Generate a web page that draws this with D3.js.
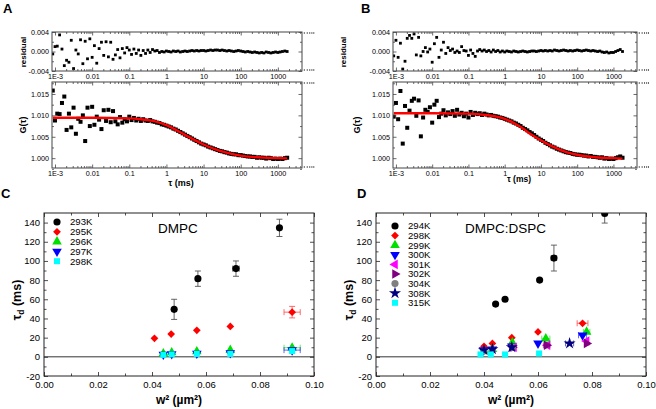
<!DOCTYPE html>
<html><head><meta charset="utf-8">
<script src="https://cdn.jsdelivr.net/npm/d3@7"></script>
<style>
body{margin:0;background:#fff;}
svg{display:block;font-family:"Liberation Sans",Arial,sans-serif;}
</style></head><body>
<svg id="c" width="656" height="409"></svg>
<script>
// ---------- FCS lag times (ms) shared by panels A and B ----------
const tauLag = [
 0.00087,
 0.00100,0.00115,0.00133,0.00154,0.00178,0.00205,0.00237,0.00274,0.00316,0.00365,0.00422,0.00487,0.00562,0.00649,0.00750,0.00866,
 0.0100,0.0115,0.0133,0.0154,0.0178,0.0205,0.0237,0.0274,0.0316,0.0365,0.0422,0.0487,0.0562,0.0649,0.0750,0.0866,
 0.100,0.115,0.133,0.154,0.178,0.205,0.237,0.274,0.316,0.365,0.422,0.487,0.562,0.649,0.750,0.866,
 1.00,1.15,1.33,1.54,1.78,2.05,2.37,2.74,3.16,3.65,4.22,4.87,5.62,6.49,7.50,8.66,
 10.0,11.5,13.3,15.4,17.8,20.5,23.7,27.4,31.6,36.5,42.2,48.7,56.2,64.9,75.0,86.6,
 100,115,133,154,178,205,237,274,316,365,422,487,562,649,750,866,
 1000,1150,1330,1540,1780
];
const gA = [
 1.0158,
 1.0088,1.0104,1.0103,1.0129,1.0144,1.0066,1.0104,1.0072,1.0118,1.0057,1.0092,1.0085,1.0100,1.0040,1.0118,1.0075,
 1.0120,1.0078,1.0097,1.0090,1.0068,1.0112,1.0087,1.0113,1.0084,1.0110,1.0086,1.0079,1.0096,1.0083,1.0091,1.0086,
 1.0097,1.0089,1.0094,1.0088,1.0092,1.0087,1.0091,1.0088,1.0087,1.0089,1.0086,1.0085,1.0083,1.0082,1.0079,1.0078,
 1.0076,1.0074,1.0072,1.0069,1.0067,1.0064,1.0061,1.0058,1.0055,1.0052,1.0049,1.0046,1.0043,1.0040,1.0037,1.0034,
 1.0032,1.0030,1.0027,1.0025,1.0023,1.0021,1.0019,1.0017,1.0016,1.0014,1.0013,1.0011,1.0010,1.0009,1.0009,1.0007,
 1.0007,1.0006,1.0005,1.0004,1.0004,1.0003,1.0003,1.0001,1.0002,1.0001,1.0001,0.9999,1.0001,1.0000,0.9998,0.9999,
 0.9998,0.9999,0.9998,1.0000,1.0001
];
const resA = [
 -0.0005,
 0.0010,0.0011,0.0034,0.0005,-0.0029,-0.0018,-0.0022,0.0023,-0.0035,0.0003,-0.0005,0.0024,-0.0025,0.0021,-0.0015,0.0026,
 -0.0012,0.0012,-0.0024,0.0006,0.0019,-0.0008,0.0020,-0.0011,0.0019,-0.0016,-0.0007,0.0004,-0.0013,0.0006,-0.0003,0.0008,
 0.0003,-0.0006,0.0005,-0.0004,0.0003,-0.0008,0.0002,-0.0004,0.0003,-0.0002,0.0004,0.0001,0.0002,-0.0002,0.0000,-0.0001,
 0.0001,0.0000,-0.0001,0.0001,0.0000,0.0001,-0.0001,0.0000,0.0001,0.0000,0.0001,0.0002,0.0001,0.0002,0.0001,0.0002,
 0.0002,0.0001,0.0002,0.0003,0.0002,0.0003,0.0003,0.0002,0.0003,0.0002,0.0001,0.0002,0.0001,0.0000,0.0001,0.0002,
 0.0001,0.0000,-0.0001,0.0000,-0.0001,-0.0002,-0.0001,-0.0002,-0.0003,-0.0002,-0.0003,-0.0001,-0.0002,-0.0003,-0.0002,-0.0001,
 -0.0002,-0.0001,0.0000,0.0001,0.0000
];
const gB = [
 1.0097,
 1.0129,1.0091,1.0157,1.0034,1.0122,1.0071,1.0111,1.0134,1.0139,1.0099,1.0135,1.0051,1.0095,1.0113,1.0108,1.0119,
 1.0083,1.0125,1.0134,1.0096,1.0104,1.0112,1.0100,1.0107,1.0103,1.0110,1.0099,1.0113,1.0102,1.0106,1.0098,1.0104,
 1.0095,1.0108,1.0101,1.0106,1.0103,1.0105,1.0101,1.0104,1.0102,1.0100,1.0101,1.0099,1.0098,1.0097,1.0095,1.0094,
 1.0092,1.0090,1.0088,1.0086,1.0083,1.0081,1.0078,1.0075,1.0071,1.0068,1.0065,1.0061,1.0058,1.0054,1.0050,1.0046,
 1.0043,1.0040,1.0036,1.0033,1.0030,1.0027,1.0025,1.0022,1.0020,1.0018,1.0016,1.0014,1.0013,1.0012,1.0010,1.0009,
 1.0008,1.0008,1.0007,1.0006,1.0006,1.0004,1.0005,1.0003,1.0003,1.0002,1.0001,1.0002,0.9999,1.0000,0.9998,0.9999,
 0.9998,1.0000,1.0002,1.0004,1.0001
];
const resB = [
 -0.0009,
 0.0023,-0.0012,0.0017,-0.0036,-0.0020,0.0027,0.0033,0.0027,0.0036,-0.0007,0.0029,-0.0009,0.0000,0.0008,-0.0001,0.0005,
 -0.0022,0.0016,0.0029,-0.0012,0.0003,0.0019,-0.0004,0.0008,0.0002,0.0005,-0.0002,0.0001,-0.0002,0.0010,0.0002,0.0001,
 -0.0008,0.0003,-0.0004,-0.0010,0.0001,0.0004,0.0001,0.0003,0.0000,0.0002,-0.0001,0.0003,0.0000,0.0002,-0.0001,0.0001,
 -0.0001,0.0001,0.0000,-0.0001,0.0001,0.0000,-0.0001,0.0000,0.0001,0.0000,-0.0001,0.0000,0.0001,0.0001,0.0000,0.0001,
 0.0002,0.0001,0.0002,0.0001,0.0002,0.0001,0.0003,0.0002,0.0001,0.0002,0.0003,0.0002,0.0001,0.0002,0.0001,0.0002,
 0.0003,0.0002,0.0001,0.0002,0.0003,0.0002,0.0001,0.0002,0.0001,0.0000,0.0001,-0.0001,-0.0002,-0.0001,-0.0003,-0.0002,
 -0.0002,0.0000,0.0002,0.0004,0.0000
];
// fitted curves (read at selected lag times)
const fitTauA = [0.00087,0.01,0.1,0.2,0.5,1,2,5,10,20,50,100,200,500,1000,1780];
const fitGA   = [1.00945,1.00945,1.0093,1.0091,1.0086,1.0077,1.0064,1.0045,1.0032,1.0021,1.0011,1.0006,1.0003,1.0001,1.0000,0.99995];
const fitTauB = [0.00087,0.01,0.1,0.3,1,2,3,5,10,20,50,100,200,500,1000,1780];
const fitGB   = [1.0105,1.0105,1.0104,1.0101,1.0092,1.0080,1.0071,1.0057,1.0042,1.0028,1.0014,1.0008,1.0004,1.0001,1.0000,0.9999];

const tauTicks = [0.001,0.01,0.1,1,10,100,1000];
const tauTickLabels = ["1E-3","0.01","0.1","1","10","100","1000"];
const gTicks = [1.000,1.005,1.010,1.015];
const gTickLabels = ["1.000","1.005","1.010","1.015"];
const resTicks = [-0.004,0,0.004];
const resTickLabels = ["-0.004","0.000","0.004"];

// ---------- panels C and D: [w^2 (µm^2), tau_d (ms), err w^2, err tau_d] ----------
const tempsC = ["293K","295K","296K","297K","298K"];
const c293K = [[0.0482,49.5,0,10.5],[0.0570,81.5,0,8],[0.0711,92,0.0012,8],[0.0872,134.5,0,9]];
const c295K = [[0.0409,19.3,0,0],[0.0471,23.8,0,0],[0.0566,27.6,0,0],[0.0690,31.7,0,0],[0.0919,46.6,0.003,6]];
const c296K = [[0.0442,3.5,0,0],[0.0473,4.5,0,0],[0.0566,5.5,0,0],[0.0690,7,0,0],[0.0919,9.5,0.003,0]];
const c297K = [[0.0442,2.5,0,0],[0.0473,3,0,0],[0.0566,3.5,0,0],[0.0690,4,0,0],[0.0919,7,0.003,0]];
const c298K = [[0.0442,2,0,0],[0.0473,2.5,0,0],[0.0566,3,0,0],[0.0690,3,0,0],[0.0919,6,0,0]];

const tempsD = ["294K","298K","299K","300K","301K","302K","304K","308K","315K"];
const d294K = [[0.0443,55,0,0],[0.0478,60,0,0],[0.0606,80,0,0],[0.0659,103,0.001,13.5],[0.0847,149.5,0,10]];
const d298K = [[0.0400,11,0,0],[0.0431,14,0,0],[0.0503,20,0,0],[0.0600,26,0,0],[0.0765,35,0.002,0]];
const d299K = [[0.0400,6,0,0],[0.0431,8,0,0],[0.0505,15,0,0],[0.0629,19,0.0015,0],[0.0780,26,0.0012,0]];
const d300K = [[0.0398,7,0,0],[0.0431,8,0,0],[0.0503,11,0,0],[0.0600,14,0,0],[0.0765,22.5,0.0015,0]];
const d301K = [[0.0511,10,0,0],[0.0635,12,0,0],[0.0780,16.5,0,0]];
const d302K = [[0.0505,10,0,0],[0.0632,12,0.0012,0],[0.0780,14,0,0]];
const d304K = [[0.0400,6,0,0],[0.0431,7,0,0],[0.0505,10,0,0]];
const d308K = [[0.0400,7,0,0],[0.0431,8,0,0],[0.0503,10,0,0],[0.0717,14,0.0015,0]];
const d315K = [[0.0387,2.5,0,0],[0.0425,2.5,0,0],[0.0478,2.5,0,0],[0.0604,3.5,0,0]];

const wTicks = [0,0.02,0.04,0.06,0.08,0.10];
const wTickLabels = ["0.00","0.02","0.04","0.06","0.08","0.10"];
const tdTicks = [-20,0,20,40,60,80,100,120,140];

// ---------------------------------------------------------------
const svg = d3.select("#c");
const zip = (a,b)=>a.map((v,i)=>[v,b[i]]);

function frameAxes(g, x, y, o){
  const [x0,x1]=x.range(), [y1,y0]=y.range();
  const style = sel=>{
    sel.select(".domain").remove();
    sel.selectAll("line").attr("stroke",o.col).attr("stroke-width",0.8);
    sel.selectAll("text").attr("font-size",o.fs).attr("fill","#000")
       .attr("font-family",'"Liberation Sans",Arial,sans-serif');
    sel.attr("font-size",null).attr("font-family",null);
  };
  g.append("g").attr("transform",`translate(0,${y1})`)
    .call(d3.axisBottom(x).tickValues(o.xMaj).tickSizeInner(-o.maj).tickSizeOuter(0)
      .tickPadding(o.xpad).tickFormat((d,i)=>o.xLab?o.xLab[i]:"")).call(style);
  g.append("g").attr("transform",`translate(0,${y1})`)
    .call(d3.axisBottom(x).tickValues(o.xMin).tickSize(-o.min).tickFormat("")).call(style);
  g.append("g").attr("transform",`translate(0,${y0})`)
    .call(d3.axisTop(x).tickValues(o.xMaj).tickSize(-o.maj).tickFormat("")).call(style);
  g.append("g").attr("transform",`translate(0,${y0})`)
    .call(d3.axisTop(x).tickValues(o.xMin).tickSize(-o.min).tickFormat("")).call(style);
  g.append("g").attr("transform",`translate(${x0},0)`)
    .call(d3.axisLeft(y).tickValues(o.yMaj).tickSizeInner(-o.maj).tickSizeOuter(0)
      .tickPadding(o.ypad).tickFormat((d,i)=>o.yLab[i])).call(style);
  g.append("g").attr("transform",`translate(${x0},0)`)
    .call(d3.axisLeft(y).tickValues(o.yMin).tickSize(-o.min).tickFormat("")).call(style);
  g.append("g").attr("transform",`translate(${x1},0)`)
    .call(d3.axisRight(y).tickValues(o.yMaj).tickSize(-o.maj).tickFormat("")).call(style);
  g.append("g").attr("transform",`translate(${x1},0)`)
    .call(d3.axisRight(y).tickValues(o.yMin).tickSize(-o.min).tickFormat("")).call(style);
  g.append("rect").attr("x",x0).attr("y",y0).attr("width",x1-x0).attr("height",y1-y0)
    .attr("fill","none").attr("stroke",o.col).attr("stroke-width",1);
}

const tauMinor = [];
[0.001,0.01,0.1,1,10,100,1000].forEach(dec=>{ for(let k=2;k<=9;k++) tauMinor.push(+(k*dec).toPrecision(3)); });

function fcsPanel(o){
  const g = svg.append("g");
  const x = d3.scaleLog().domain([0.00083,4470]).range([o.x0,o.x1]);
  const yR = d3.scaleLinear().domain([-0.004,0.004]).range([71,32]);
  const yG = d3.scaleLinear().domain([0.9977,1.0178]).range([168,82]);
  const cid = "clip"+o.id;
  const defs = g.append("defs");
  defs.append("clipPath").attr("id",cid+"r").append("rect").attr("x",o.x0).attr("y",32).attr("width",o.x1-o.x0).attr("height",39);
  defs.append("clipPath").attr("id",cid+"g").append("rect").attr("x",o.x0).attr("y",82).attr("width",o.x1-o.x0).attr("height",86);

  // residual
  g.append("g").attr("clip-path",`url(#${cid}r)`).selectAll("rect").data(zip(tauLag,o.res)).join("rect")
    .attr("x",d=>x(d[0])-1.4).attr("y",d=>yR(d[1])-1.4).attr("width",2.8).attr("height",2.8).attr("fill","#000");
  frameAxes(g,x,yR,{xMaj:tauTicks,xMin:tauMinor,xLab:tauTickLabels,yMaj:resTicks,yMin:[-0.002,0.002],
    yLab:resTickLabels,maj:3.5,min:2,fs:7.2,xpad:2.5,ypad:3,col:"#444"});
  // G(tau)
  const gg = g.append("g").attr("clip-path",`url(#${cid}g)`);
  gg.selectAll("rect").data(zip(tauLag,o.g)).join("rect")
    .attr("x",d=>x(d[0])-2).attr("y",d=>yG(d[1])-2).attr("width",4).attr("height",4).attr("fill","#000");
  gg.append("path").datum(zip(o.fitTau,o.fitG))
    .attr("d",d3.line().x(d=>x(d[0])).y(d=>yG(d[1])).curve(d3.curveMonotoneX))
    .attr("fill","none").attr("stroke","#f00").attr("stroke-width",2.4);
  frameAxes(g,x,yG,{xMaj:tauTicks,xMin:tauMinor,xLab:tauTickLabels,yMaj:gTicks,yMin:[0.9975,1.0025,1.0075,1.0125,1.0175],
    yLab:gTickLabels,maj:3.5,min:2,fs:7.2,xpad:2.5,ypad:3,col:"#444"});

  g.append("text").attr("transform",`translate(${o.rlx},52) rotate(-90)`).attr("text-anchor","middle")
    .attr("font-size",8).attr("font-weight","bold").text("residual");
  g.append("text").attr("transform",`translate(${o.glx},125) rotate(-90)`).attr("text-anchor","middle")
    .attr("font-size",9).attr("font-weight","bold").text("G(τ)");
  g.append("text").attr("x",o.tx).attr("y",o.ty).attr("text-anchor","middle")
    .attr("font-size",o.tfs).attr("font-weight","bold").text("τ (ms)");
  g.append("text").attr("x",o.lx).attr("y",13).attr("font-size",13).attr("font-weight","bold").text(o.label);
}

fcsPanel({id:"A",x0:52,x1:302,res:resA,g:gA,fitTau:fitTauA,fitG:fitGA,rlx:26,glx:25.5,tx:181,ty:186,tfs:9,lx:3,label:"A"});
fcsPanel({id:"B",x0:393,x1:637,res:resB,g:gB,fitTau:fitTauB,fitG:fitGB,rlx:346,glx:360,tx:519,ty:182,tfs:8.5,lx:361,label:"B"});

// ---------- C / D ----------
const sym = {
  circle:{t:d3.symbolCircle,s:40,r:0},
  diamond:{t:d3.symbolSquare,s:30,r:45},
  up:{t:d3.symbolTriangle,s:40,r:0},
  down:{t:d3.symbolTriangle,s:40,r:180},
  left:{t:d3.symbolTriangle,s:40,r:-90},
  right:{t:d3.symbolTriangle,s:40,r:90},
  star:{t:d3.symbolStar,s:45,r:0},
  square:{t:d3.symbolSquare,s:36,r:0}
};

function scatterPanel(o){
  const g = svg.append("g");
  const x = d3.scaleLinear().domain([0,0.10]).range([o.x0,o.x0+270]);
  const y = d3.scaleLinear().domain([-20,150]).range([376,213]);
  const cid = "clip"+o.id;
  g.append("defs").append("clipPath").attr("id",cid).append("rect")
    .attr("x",o.x0).attr("y",213).attr("width",270).attr("height",163);
  // zero line
  g.append("line").attr("x1",o.x0).attr("x2",o.x0+270).attr("y1",y(0)).attr("y2",y(0))
    .attr("stroke","#333").attr("stroke-width",1);
  const pg = g.append("g").attr("clip-path",`url(#${cid})`);
  o.series.forEach(s=>{
    const ec = s.col==="#000000" ? "#555" : s.col;
    const eg = pg.append("g").attr("stroke",ec).attr("stroke-width",0.9).attr("opacity",s.col==="#000000"?1:0.65);
    s.data.forEach(d=>{
      if(d[3]>0){
        eg.append("line").attr("x1",x(d[0])).attr("x2",x(d[0])).attr("y1",y(d[1]-d[3])).attr("y2",y(d[1]+d[3]));
        [d[1]-d[3],d[1]+d[3]].forEach(v=>eg.append("line").attr("x1",x(d[0])-3).attr("x2",x(d[0])+3).attr("y1",y(v)).attr("y2",y(v)));
      }
      if(d[2]>0){
        eg.append("line").attr("x1",x(d[0]-d[2])).attr("x2",x(d[0]+d[2])).attr("y1",y(d[1])).attr("y2",y(d[1]));
        [d[0]-d[2],d[0]+d[2]].forEach(v=>eg.append("line").attr("x1",x(v)).attr("x2",x(v)).attr("y1",y(d[1])-3).attr("y2",y(d[1])+3));
      }
    });
    const sy = sym[s.sym];
    pg.append("g").selectAll("path").data(s.data).join("path")
      .attr("d",d3.symbol().type(sy.t).size(sy.s))
      .attr("transform",d=>`translate(${x(d[0])},${y(d[1])}) rotate(${sy.r})`)
      .attr("fill",s.col);
  });
  frameAxes(g,x,y,{xMaj:wTicks,xMin:[0.01,0.03,0.05,0.07,0.09],xLab:wTickLabels,yMaj:tdTicks,
    yMin:[-10,10,30,50,70,90,110,130],yLab:tdTicks.map(String),maj:4,min:2.5,fs:9.5,xpad:5.5,ypad:4,col:"#222"});
  // legend
  o.series.forEach((s,i)=>{
    const sy = sym[s.sym];
    const ly = o.ly + i*o.ldy;
    g.append("path").attr("d",d3.symbol().type(sy.t).size(sy.s))
      .attr("transform",`translate(${o.lx},${ly}) rotate(${sy.r})`).attr("fill",s.col);
    g.append("text").attr("x",o.lx+13).attr("y",ly+3.4).attr("font-size",9.6).text(s.name);
  });
  g.append("text").attr("x",o.titleX).attr("y",233).attr("font-size",13.5).text(o.title);
  g.append("text").attr("x",o.x0+135).attr("y",404).attr("text-anchor","middle")
    .attr("font-size",12).attr("font-weight","bold").text("w² (µm²)");
  const yt = g.append("text").attr("transform",`translate(${o.x0-23},300) rotate(-90)`)
    .attr("text-anchor","middle").attr("font-size",12.5).attr("font-weight","bold");
  yt.append("tspan").text("τ");
  yt.append("tspan").attr("font-size",8.5).attr("dy",3).text("d");
  yt.append("tspan").attr("dy",-3).text(" (ms)");
  g.append("text").attr("x",o.lx0).attr("y",198).attr("font-size",13).attr("font-weight","bold").text(o.label);
}

scatterPanel({id:"C",x0:44,label:"C",lx0:1,title:"DMPC",titleX:158,lx:57,ly:222,ldy:9.8,
  series:[
    {name:tempsC[0],data:c293K,col:"#000000",sym:"circle"},
    {name:tempsC[1],data:c295K,col:"#ff0000",sym:"diamond"},
    {name:tempsC[2],data:c296K,col:"#00e000",sym:"up"},
    {name:tempsC[3],data:c297K,col:"#0000ff",sym:"down"},
    {name:tempsC[4],data:c298K,col:"#00ffff",sym:"square"}
  ]});
scatterPanel({id:"D",x0:376,label:"D",lx0:357,title:"DMPC:DSPC",titleX:465,lx:395,ly:226,ldy:9.6,
  series:[
    {name:tempsD[0],data:d294K,col:"#000000",sym:"circle"},
    {name:tempsD[1],data:d298K,col:"#ff0000",sym:"diamond"},
    {name:tempsD[2],data:d299K,col:"#00e000",sym:"up"},
    {name:tempsD[3],data:d300K,col:"#0000ff",sym:"down"},
    {name:tempsD[4],data:d301K,col:"#ff00ff",sym:"left"},
    {name:tempsD[5],data:d302K,col:"#800080",sym:"right"},
    {name:tempsD[6],data:d304K,col:"#808080",sym:"circle"},
    {name:tempsD[7],data:d308K,col:"#000080",sym:"star"},
    {name:tempsD[8],data:d315K,col:"#00ffff",sym:"square"}
  ]});
</script></body></html>
